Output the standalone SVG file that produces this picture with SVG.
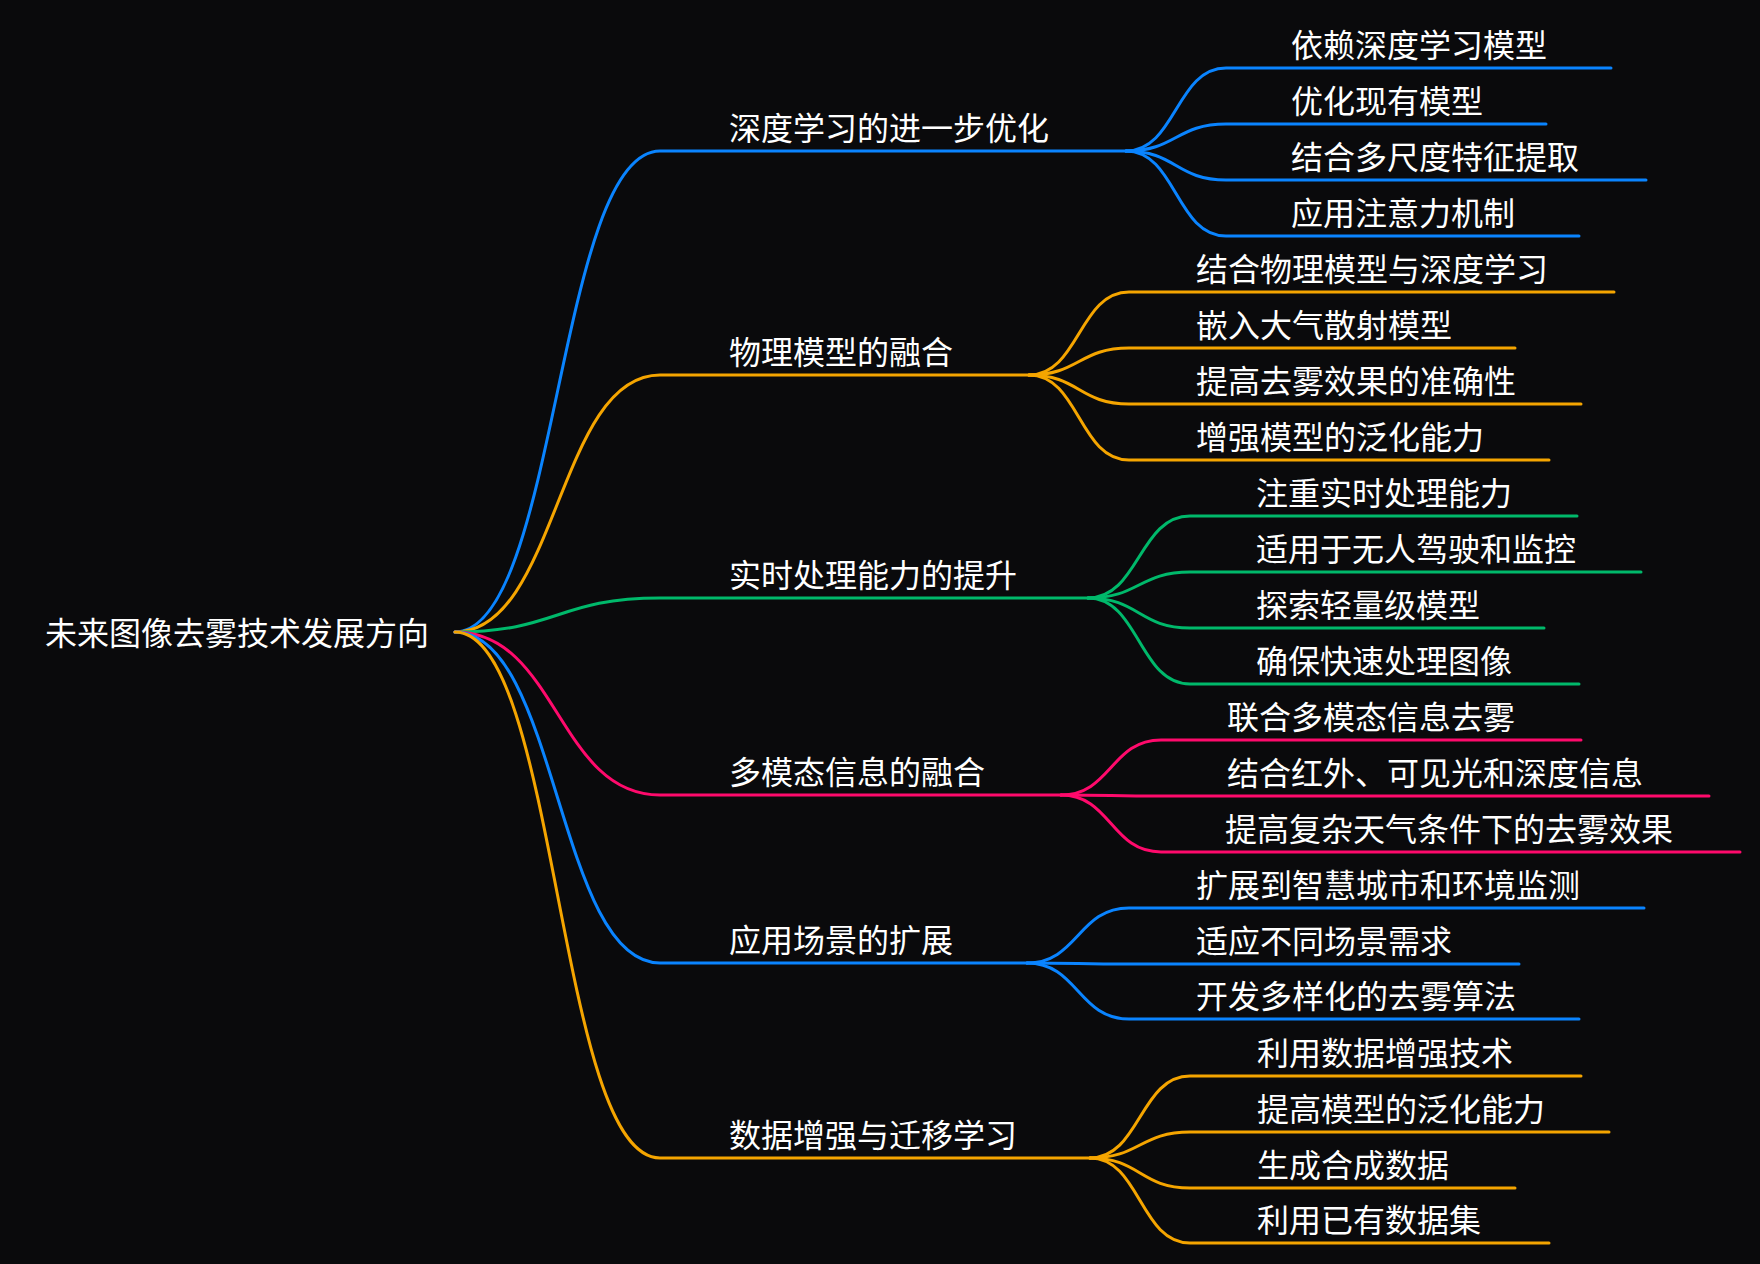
<svg xmlns="http://www.w3.org/2000/svg" width="1760" height="1264" viewBox="0 0 1760 1264">
<style>
text{font-family:"Noto Sans CJK SC","Noto Sans",sans-serif;font-size:32px;fill:#ffffff}
path{fill:none;stroke-width:3;stroke-linecap:round}
.b{stroke:#0a84ff}.o{stroke:#f5a500}.g{stroke:#00b96b}.p{stroke:#ff0a6c}
</style>
<rect width="1760" height="1264" fill="#0a0a0c"/>
<g id="connectors">
<path class="b" d="M455,632 C557.5,632 557.5,151 660,151 H1126"/>
<path class="o" d="M455,632 C557.5,632 557.5,375 660,375 H1029"/>
<path class="g" d="M455,632 C557.5,632 557.5,598 660,598 H1088"/>
<path class="p" d="M455,632 C557.5,632 557.5,795 660,795 H1061"/>
<path class="b" d="M455,632 C557.5,632 557.5,963 660,963 H1027"/>
<path class="o" d="M455,632 C557.5,632 557.5,1158 660,1158 H1090"/>
<path class="b" d="M1126,151 C1176,151 1176,68 1226,68 H1611"/>
<path class="b" d="M1126,151 C1176,151 1176,124 1226,124 H1546"/>
<path class="b" d="M1126,151 C1176,151 1176,180 1226,180 H1646"/>
<path class="b" d="M1126,151 C1176,151 1176,236 1226,236 H1579"/>
<path class="o" d="M1029,375 C1079,375 1079,292 1129,292 H1614"/>
<path class="o" d="M1029,375 C1079,375 1079,348 1129,348 H1515"/>
<path class="o" d="M1029,375 C1079,375 1079,404 1129,404 H1581"/>
<path class="o" d="M1029,375 C1079,375 1079,460 1129,460 H1549"/>
<path class="g" d="M1088,598 C1139,598 1139,516 1190,516 H1577"/>
<path class="g" d="M1088,598 C1139,598 1139,572 1190,572 H1641"/>
<path class="g" d="M1088,598 C1139,598 1139,628 1190,628 H1544"/>
<path class="g" d="M1088,598 C1139,598 1139,684 1190,684 H1579"/>
<path class="p" d="M1061,795 C1111,795 1111,740 1161,740 H1581"/>
<path class="p" d="M1061,795 C1111,795 1111,796 1161,796 H1709"/>
<path class="p" d="M1061,795 C1111,795 1111,852 1161,852 H1740"/>
<path class="b" d="M1027,963 C1078,963 1078,908 1129,908 H1644"/>
<path class="b" d="M1027,963 C1078,963 1078,964 1129,964 H1519"/>
<path class="b" d="M1027,963 C1078,963 1078,1019 1129,1019 H1579"/>
<path class="o" d="M1090,1158 C1140,1158 1140,1076 1190,1076 H1581"/>
<path class="o" d="M1090,1158 C1140,1158 1140,1132 1190,1132 H1609"/>
<path class="o" d="M1090,1158 C1140,1158 1140,1188 1190,1188 H1515"/>
<path class="o" d="M1090,1158 C1140,1158 1140,1243 1190,1243 H1549"/>
</g>
<g id="root"><text x="45" y="645">未来图像去雾技术发展方向</text></g>
<g id="b1"><text x="729" y="140">深度学习的进一步优化</text></g>
<g id="b1s1"><text x="1291" y="57">依赖深度学习模型</text></g>
<g id="b1s2"><text x="1291" y="113">优化现有模型</text></g>
<g id="b1s3"><text x="1291" y="169">结合多尺度特征提取</text></g>
<g id="b1s4"><text x="1291" y="225">应用注意力机制</text></g>
<g id="b2"><text x="729" y="364">物理模型的融合</text></g>
<g id="b2s1"><text x="1196" y="281">结合物理模型与深度学习</text></g>
<g id="b2s2"><text x="1196" y="337">嵌入大气散射模型</text></g>
<g id="b2s3"><text x="1196" y="393">提高去雾效果的准确性</text></g>
<g id="b2s4"><text x="1196" y="449">增强模型的泛化能力</text></g>
<g id="b3"><text x="729" y="587">实时处理能力的提升</text></g>
<g id="b3s1"><text x="1256" y="505">注重实时处理能力</text></g>
<g id="b3s2"><text x="1256" y="561">适用于无人驾驶和监控</text></g>
<g id="b3s3"><text x="1256" y="617">探索轻量级模型</text></g>
<g id="b3s4"><text x="1256" y="673">确保快速处理图像</text></g>
<g id="b4"><text x="729" y="784">多模态信息的融合</text></g>
<g id="b4s1"><text x="1227" y="729">联合多模态信息去雾</text></g>
<g id="b4s2"><text x="1227" y="785">结合红外、可见光和深度信息</text></g>
<g id="b4s3"><text x="1225" y="841">提高复杂天气条件下的去雾效果</text></g>
<g id="b5"><text x="729" y="952">应用场景的扩展</text></g>
<g id="b5s1"><text x="1196" y="897">扩展到智慧城市和环境监测</text></g>
<g id="b5s2"><text x="1196" y="953">适应不同场景需求</text></g>
<g id="b5s3"><text x="1196" y="1008">开发多样化的去雾算法</text></g>
<g id="b6"><text x="729" y="1147">数据增强与迁移学习</text></g>
<g id="b6s1"><text x="1257" y="1065">利用数据增强技术</text></g>
<g id="b6s2"><text x="1257" y="1121">提高模型的泛化能力</text></g>
<g id="b6s3"><text x="1257" y="1177">生成合成数据</text></g>
<g id="b6s4"><text x="1257" y="1232">利用已有数据集</text></g>
</svg>
